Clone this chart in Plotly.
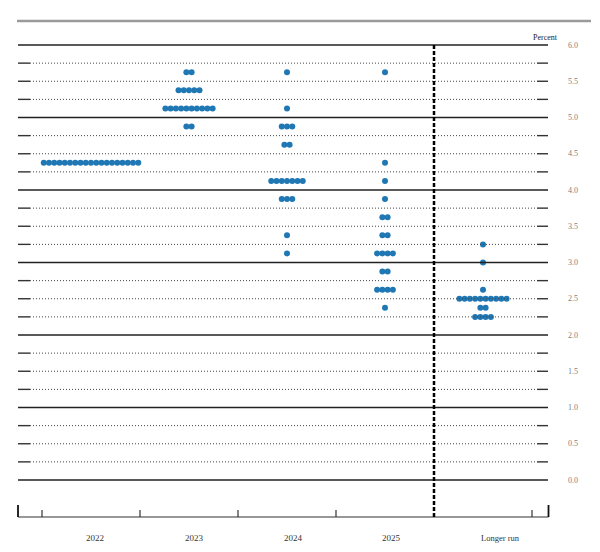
import plotly.graph_objects as go

# ---- data ----
years = ["2022", "2023", "2024", "2025", "Longer run"]

rates_2022 = [4.375]
counts_2022 = [19]

rates_2023 = [5.625, 5.375, 5.125, 4.875]
counts_2023 = [2, 5, 10, 2]

rates_2024 = [5.625, 5.125, 4.875, 4.625, 4.125, 3.875, 3.375, 3.125]
counts_2024 = [1, 1, 3, 2, 7, 3, 1, 1]

rates_2025 = [5.625, 4.375, 4.125, 3.875, 3.625, 3.375, 3.125, 2.875, 2.625, 2.375]
counts_2025 = [1, 1, 1, 1, 2, 2, 4, 2, 4, 1]

rates_lr = [3.25, 3.0, 2.625, 2.5, 2.375, 2.25]
counts_lr = [1, 1, 1, 10, 2, 4]

y_tick_labels = ["0.0", "0.5", "1.0", "1.5", "2.0", "2.5", "3.0", "3.5",
                 "4.0", "4.5", "5.0", "5.5", "6.0"]

# ---- layout constants (pixel mapping) ----
PX_PER_X = 98.0
PX_PER_Y = 72.5
X0_PX = 91.0     # pixel of category 0 centre
Y0_PX = 480.0    # pixel of value 0
W, H = 600, 552

def xpx(p):
    return (p - X0_PX) / PX_PER_X

def ypx(p):
    return (Y0_PX - p) / PX_PER_Y

DOT_STEP = 5.25 / PX_PER_X
DOT_COLOR = "#1f77b4"

all_rates = [rates_2022, rates_2023, rates_2024, rates_2025, rates_lr]
all_counts = [counts_2022, counts_2023, counts_2024, counts_2025, counts_lr]

xs, ys = [], []
for i, (rs, cs) in enumerate(zip(all_rates, all_counts)):
    for r, c in zip(rs, cs):
        for k in range(c):
            xs.append(i + (k - (c - 1) / 2) * DOT_STEP)
            ys.append(r)

fig = go.Figure()
fig.add_trace(go.Scatter(
    x=xs, y=ys, mode="markers",
    marker=dict(size=6, color=DOT_COLOR, line=dict(width=0)),
    hoverinfo="skip", showlegend=False,
))

shapes = []
# top gray bar
shapes.append(dict(type="line", xref="x", yref="y", x0=xpx(17), x1=xpx(591),
                   y0=ypx(21), y1=ypx(21), line=dict(color="#9a9a9a", width=2.5)))

# horizontal grid lines every 0.25
for q in range(0, 25):
    v = q * 0.25
    if q % 4 == 0:
        shapes.append(dict(type="line", xref="x", yref="y", x0=xpx(18), x1=xpx(548),
                           y0=v, y1=v, line=dict(color="#222", width=1.4)))
    else:
        shapes.append(dict(type="line", xref="x", yref="y", x0=xpx(30), x1=xpx(537),
                           y0=v, y1=v, line=dict(color="#444", width=1, dash="1px,2px")))
        shapes.append(dict(type="line", xref="x", yref="y", x0=xpx(18), x1=xpx(30),
                           y0=v, y1=v, line=dict(color="#333", width=1.4)))
        shapes.append(dict(type="line", xref="x", yref="y", x0=xpx(537), x1=xpx(548),
                           y0=v, y1=v, line=dict(color="#333", width=1.4)))

# bottom axis
yb = ypx(517)
shapes.append(dict(type="line", xref="x", yref="y", x0=xpx(18), x1=xpx(548.5),
                   y0=yb, y1=yb, line=dict(color="#333", width=1.2)))
for px_ in [18, 548.5]:
    shapes.append(dict(type="line", xref="x", yref="y", x0=xpx(px_), x1=xpx(px_),
                       y0=yb, y1=ypx(505), line=dict(color="#111", width=1.8)))
for b in [-0.5, 0.5, 1.5, 2.5, 4.5]:
    shapes.append(dict(type="line", xref="x", yref="y", x0=b, x1=b,
                       y0=yb, y1=ypx(510), line=dict(color="#333", width=1.2)))

# vertical dashed separator
shapes.append(dict(type="line", xref="x", yref="y", x0=3.5, x1=3.5,
                   y0=6.0, y1=yb, line=dict(color="#000", width=2.5, dash="4px,2px")))

annotations = []
serif = "Liberation Serif"
for j, lab in enumerate(y_tick_labels):
    annotations.append(dict(x=xpx(573), y=j * 0.5, xref="x", yref="y", text=lab,
                            showarrow=False, xanchor="center", yanchor="middle",
                            font=dict(family=serif, size=8, color="#808080")))
annotations.append(dict(x=xpx(545), y=ypx(37), xref="x", yref="y", text="Percent",
                        showarrow=False, xanchor="center", yanchor="middle",
                        font=dict(family=serif, size=8, color="#222222")))
label_shift = [4, 5, 6, 6.5, 17]
for i, lab in enumerate(years):
    annotations.append(dict(x=i, y=ypx(538), xref="x", yref="y", text=lab,
                            showarrow=False, xanchor="center", yanchor="middle",
                            xshift=label_shift[i],
                            font=dict(family=serif, size=9 if i < 4 else 8.5, color="#333333")))

fig.update_layout(
    width=W, height=H,
    margin=dict(l=0, r=0, t=0, b=0),
    paper_bgcolor="white", plot_bgcolor="white",
    xaxis=dict(range=[xpx(0), xpx(W)], visible=False, fixedrange=True),
    yaxis=dict(range=[ypx(H), ypx(0)], visible=False, fixedrange=True),
    shapes=shapes, annotations=annotations, showlegend=False,
)

fig.write_html("out.html")
